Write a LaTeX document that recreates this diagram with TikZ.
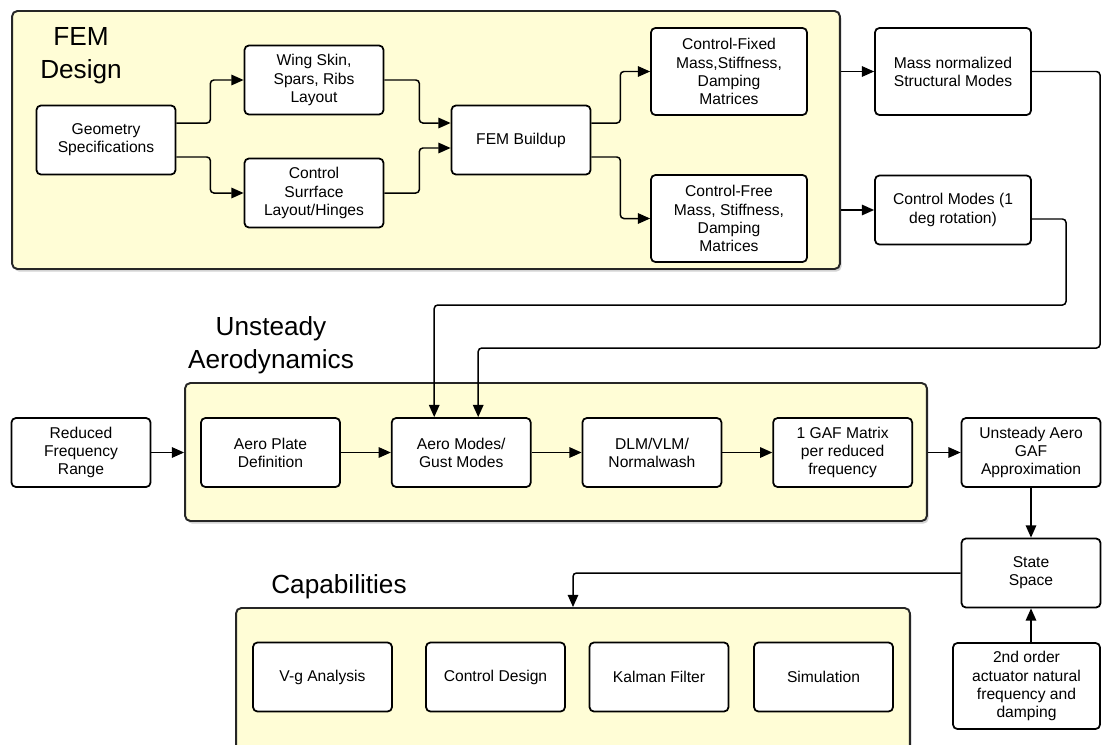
\documentclass[tikz,border=0pt]{standalone}
\usepackage{fontspec}
\setmainfont{Liberation Sans}
\usepackage{xcolor}
\usetikzlibrary{arrows.meta, positioning, shadows}
\definecolor{groupfill}{RGB}{255,253,214}
\tikzstyle{stage} = [rectangle, rounded corners=2.5pt, minimum width=2.78cm, minimum height=1.38cm, align=center, draw=black, line width=1pt, fill=white, inner sep=2pt, font=\fontsize{8.9}{10.3}\selectfont]
\tikzstyle{widestage} = [stage, minimum width=3.12cm, minimum height=1.74cm]
\tikzstyle{group} = [rectangle, rounded corners=3pt, draw=black!85, line width=1.1pt, fill=groupfill, drop shadow={opacity=0.35, shadow xshift=1pt, shadow yshift=-1.5pt}]
\tikzstyle{grouptitle} = [align=center, inner sep=0pt, font=\fontsize{14.9}{18.8}\selectfont]
\tikzstyle{arrow} = [line width=0.85pt, rounded corners=2pt, -{Triangle[length=7pt,width=6pt]}]

\begin{document}
\begin{tikzpicture}[x=0.02cm, y=-0.02cm]
  \path[use as bounding box, clip] (0,0) rectangle (1102,744);

  % groups
  \node (fem) [group, minimum width=16.56cm, minimum height=5.16cm] at (426,140) {};
  \node (aero) [group, minimum width=14.84cm, minimum height=2.76cm] at (556,452) {};
  \node (cap) [group, minimum width=13.48cm, minimum height=3.2cm] at (573,688) {};
  \node (femtitle) [grouptitle] at (81,56) {FEM\\Design};
  \node (aerotitle) [grouptitle] at (271,345) {Unsteady\\Aerodynamics};
  \node (captitle) [grouptitle] at (339,587) {Capabilities};

  % FEM design
  \node (geom) [stage] at (106,140) {Geometry\\Specifications};
  \node (wing) [stage] at (314,80) {Wing Skin,\\Spars, Ribs\\Layout};
  \node (ctrlsurf) [stage] at (314,193) {Control\\Surrface\\Layout/Hinges};
  \node (fembuild) [stage] at (521,140) {FEM Buildup};
  \node (cfixed) [widestage] at (729,71.5) {Control-Fixed\\Mass,Stiffness,\\Damping\\Matrices};
  \node (cfree) [widestage] at (729,218.5) {Control-Free\\Mass, Stiffness,\\Damping\\Matrices};
  \node (mnorm) [widestage] at (953,71.5) {Mass normalized\\Structural Modes};
  \node (cmodes) [stage, minimum width=3.12cm] at (953,210) {Control Modes (1\\deg rotation)};

  % unsteady aerodynamics
  \node (redfreq) [stage] at (81,452.5) {Reduced\\Frequency\\Range};
  \node (aeroplate) [stage] at (270.5,452.5) {Aero Plate\\Definition};
  \node (aeromodes) [stage, right=1cm of aeroplate] {Aero Modes/\\Gust Modes};
  \node (dlm) [stage, right=1cm of aeromodes] {DLM/VLM/\\Normalwash};
  \node (gaf) [stage, right=1cm of dlm] {1 GAF Matrix\\per reduced\\frequency};
  \node (gafapprox) [stage] at (1031,452.5) {Unsteady Aero\\GAF\\Approximation};
  \node (statesp) [stage] at (1031,573) {State\\Space};
  \node (order2) [stage, minimum width=2.94cm, minimum height=1.72cm] at (1026.5,686) {2nd order\\actuator natural\\frequency and\\damping};

  % capabilities
  \node (vg) [stage] at (322.5,677) {V-g Analysis};
  \node (ctrldes) [stage] at (495.5,677) {Control Design};
  \node (kalman) [stage] at (659,677) {Kalman Filter};
  \node (sim) [stage] at (823.5,677) {Simulation};

  \coordinate (mnloop) at (1100,348);
  \coordinate (cmloop) at (1066,305);

  \draw[arrow] ([yshift=0.34cm]geom.east) -- ++(0.68cm,0) |- (wing.west);
  \draw[arrow] ([yshift=-0.34cm]geom.east) -- ++(0.68cm,0) |- (ctrlsurf.west);
  \draw[arrow] (wing.east) -- ++(0.7cm,0) |- ([yshift=0.34cm]fembuild.west);
  \draw[arrow] (ctrlsurf.east) -- ++(0.7cm,0) |- ([yshift=-0.16cm]fembuild.west);
  \draw[arrow] ([yshift=0.34cm]fembuild.east) -- ++(0.58cm,0) |- (cfixed.west);
  \draw[arrow] ([yshift=-0.34cm]fembuild.east) -- ++(0.58cm,0) |- (cfree.west);
  \draw[arrow] (fem.east |- mnorm.west) -- (mnorm.west);
  \draw[arrow] (fem.east |- cmodes.west) -- (cmodes.west);
  \draw[arrow] (mnorm.east) -| (mnloop) -| ([xshift=0.34cm]aeromodes.north);
  \draw[arrow] ([yshift=-0.18cm]cmodes.east) -| (cmloop) -| ([xshift=-0.54cm]aeromodes.north);
  \draw[arrow] (redfreq.east) -- (aero.west |- redfreq.east);
  \draw[arrow] (aeroplate) -- (aeromodes);
  \draw[arrow] (aeromodes) -- (dlm);
  \draw[arrow] (dlm) -- (gaf);
  \draw[arrow] (aero.east |- gafapprox.west) -- (gafapprox.west);
  \draw[arrow] (gafapprox) -- (statesp);
  \draw[arrow] (statesp.south |- order2.north) -- (statesp.south);
  \draw[arrow] (statesp.west) -| (cap.north);
\end{tikzpicture}
\end{document}
